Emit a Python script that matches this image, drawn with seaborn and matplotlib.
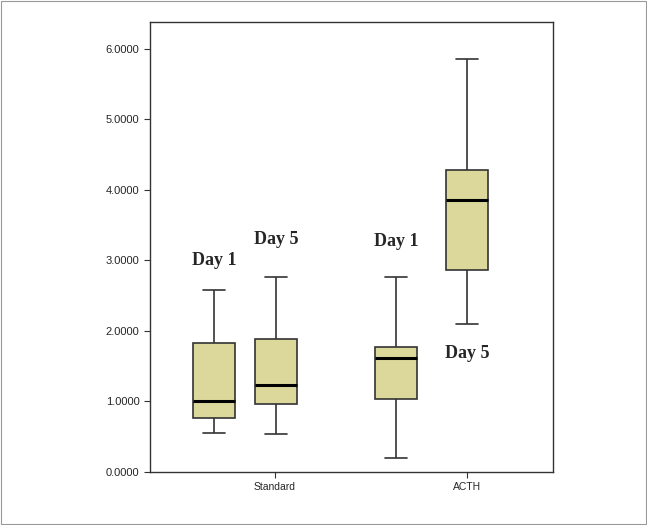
import numpy as np
import pandas as pd
import matplotlib
matplotlib.use("Agg")
import matplotlib.pyplot as plt
import seaborn as sns

# five-number summaries: low, Q1, median, Q3, high
groups = ["Standard Day 1", "Standard Day 5", "ACTH Day 1", "ACTH Day 5"]
xpos = [214, 276, 396, 467]
std_d1 = [0.55, 0.76, 1.00, 1.83, 2.58]
std_d5 = [0.54, 0.97, 1.24, 1.89, 2.76]
acth_d1 = [0.20, 1.03, 1.61, 1.77, 2.76]
acth_d5 = [2.10, 2.87, 3.86, 4.28, 5.86]
yticks = [0, 1, 2, 3, 4, 5, 6]
xtick_pos = [275, 467]
xtick_labels = ["Standard", "ACTH"]

rows = []
for x, vals in zip(xpos, [std_d1, std_d5, acth_d1, acth_d5]):
    for v in vals:
        rows.append({"x": x, "value": v})
df = pd.DataFrame(rows)

sns.set_style("white")
plt.rcParams["font.family"] = ["Liberation Sans", "DejaVu Sans"]
fig = plt.figure(figsize=(6.47, 5.25), dpi=100)
ax = fig.add_axes([150/647, 1-472/525, (553-150)/647, (472-22)/525])

sns.boxplot(data=df, x="x", y="value", native_scale=True, whis=np.inf,
            width=0.68, color="#dcd89c", saturation=1, ax=ax,
            linecolor="#333333", linewidth=1.2,
            medianprops={"color": "black", "linewidth": 2.2})

ax.set_xlim(150, 553)
ax.set_ylim(0.04, 6.38)
ax.set_yticks(yticks)
ax.set_yticklabels([f"{t:.4f}" for t in yticks], fontsize=8)
ax.set_xticks(xtick_pos)
ax.set_xticklabels(xtick_labels, fontsize=7.5)
ax.tick_params(axis="both", length=4, color="#333333", direction="out", left=True, bottom=True)
ax.set_xlabel("")
ax.set_ylabel("")
for s in ax.spines.values():
    s.set_color("#333333")
    s.set_linewidth(1)

lab = dict(family="Liberation Serif", fontweight="bold", fontsize=13, ha="center", va="center")
ax.text(214, 3.0, "Day 1", **lab)
ax.text(276, 3.3, "Day 5", **lab)
ax.text(396, 3.27, "Day 1", **lab)
ax.text(467, 1.68, "Day 5", **lab)

fig.patches.append(plt.Rectangle((0.002, 0.002), 0.996, 0.996, transform=fig.transFigure,
                                 fill=False, edgecolor="#999999", linewidth=0.8))
fig.savefig("out.png", dpi=100)
